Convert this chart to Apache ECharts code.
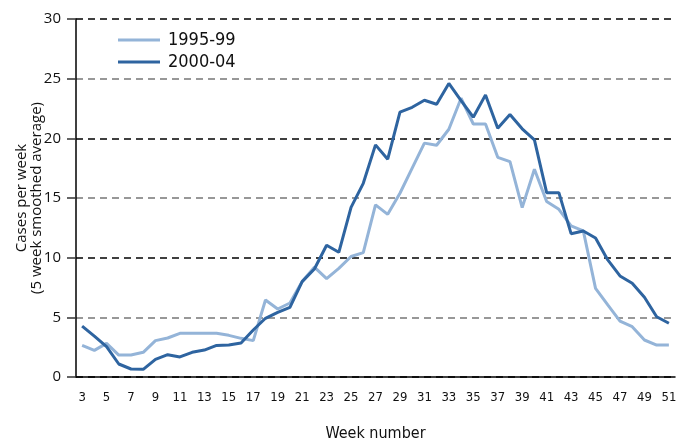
<!DOCTYPE html>
<html>
<head>
<meta charset="utf-8">
<script src="https://cdn.jsdelivr.net/npm/echarts@6/dist/echarts.min.js"></script>
<style>
  html, body { margin: 0; padding: 0; background: #fff; }
  #chart { width: 682px; height: 439px; }
</style>
</head>
<body>
<div id="chart"></div>
<script>
// weeks 3..51
const weeks = ['3', '4', '5', '6', '7', '8', '9', '10', '11', '12', '13', '14', '15', '16', '17', '18', '19',
  '20', '21', '22', '23', '24', '25', '26', '27', '28', '29', '30', '31', '32', '33', '34', '35', '36',
  '37', '38', '39', '40', '41', '42', '43', '44', '45', '46', '47', '48', '49', '50', '51']

const cases9599 = [2.65, 2.23, 2.82, 1.84, 1.84, 2.07, 3.05, 3.27, 3.66, 3.66, 3.66, 3.66, 3.49, 3.24, 3.05,
  6.45, 5.7, 6.2, 8.0, 9.2, 8.24, 9.1, 10.1, 10.42, 14.42, 13.63, 15.4, 17.5, 19.6, 19.42, 20.76, 23.36,
  21.2, 21.2, 18.41, 18.05, 14.19, 17.41, 14.7, 14.05, 12.66, 12.24, 7.43, 6.04, 4.69, 4.22, 3.1, 2.68, 2.68]

const cases0004 = [4.27, 3.43, 2.54, 1.09, 0.67, 0.64, 1.48, 1.87, 1.68, 2.07, 2.26, 2.65, 2.68, 2.85, 3.94,
  4.92, 5.42, 5.84, 7.99, 9.05, 11.04, 10.45, 14.22, 16.23, 19.45, 18.25, 22.2, 22.6, 23.19, 22.86, 24.6,
  23.16, 21.77, 23.64, 20.84, 22.0, 20.8, 19.87, 15.45, 15.45, 12.01, 12.24, 11.65, 9.81, 8.47, 7.85, 6.68,
  5.05, 4.5]

const seriesNames = ['1995-99', '2000-04']

const chart = echarts.init(document.getElementById('chart'))

chart.setOption({
  animation: false,
  grid: {
    left: 76,
    right: 7,
    top: 19,
    bottom: 62,
    outerBoundsMode: 'none' // keep the grid where it is, labels may go outside
  },
  legend: {
    data: seriesNames,
    orient: 'vertical',
    left: 113,
    top: 26,
    itemGap: 4,
    itemWidth: 42,
    itemHeight: 3,
    icon: 'rect',
    textStyle: {
      fontFamily: 'DejaVu Sans Condensed',
      fontSize: 18,
      color: '#111',
      padding: [0, 0, 0, 3]
    }
  },
  xAxis: {
    type: 'category',
    data: weeks,
    name: 'Week number',
    nameLocation: 'middle',
    nameGap: 49,
    nameTextStyle: {
      fontFamily: 'DejaVu Sans Condensed',
      fontSize: 16,
      color: '#111'
    },
    axisLine: {
      lineStyle: { color: '#000', width: 1.5 }
    },
    axisTick: {
      interval: 0,
      length: 9,
      lineStyle: { color: '#000', width: 1.5 }
    },
    axisLabel: {
      interval: 1,
      margin: 14,
      fontFamily: 'DejaVu Sans Condensed',
      fontSize: 13,
      color: '#111'
    }
  },
  yAxis: {
    type: 'value',
    min: 0,
    max: 30,
    interval: 5,
    name: 'Cases per week\n(5 week smoothed average)',
    nameLocation: 'middle',
    nameGap: 32,
    nameMoveOverlap: false,
    nameTextStyle: {
      fontFamily: 'Open Sans',
      fontSize: 15,
      lineHeight: 15,
      color: '#111'
    },
    axisLine: {
      show: true,
      lineStyle: { color: '#000', width: 1.5 }
    },
    axisTick: {
      show: true,
      length: 9,
      lineStyle: { color: '#333', width: 1.5 }
    },
    axisLabel: {
      margin: 15,
      fontFamily: 'Open Sans',
      fontSize: 15,
      color: '#111'
    },
    splitLine: {
      lineStyle: {
        // alternates dark / grey like the original
        color: ['#000', '#777'],
        type: [7, 5],
        width: 1.5
      }
    }
  },
  series: [
    {
      name: seriesNames[0],
      type: 'line',
      data: cases9599,
      showSymbol: false,
      color: '#94b4d8',
      lineStyle: { width: 3, color: '#94b4d8' },
      z: 2
    },
    {
      name: seriesNames[1],
      type: 'line',
      data: cases0004,
      showSymbol: false,
      color: '#2e64a0',
      lineStyle: { width: 3, color: '#2e64a0' },
      z: 3
    }
  ]
})
</script>
</body>
</html>
